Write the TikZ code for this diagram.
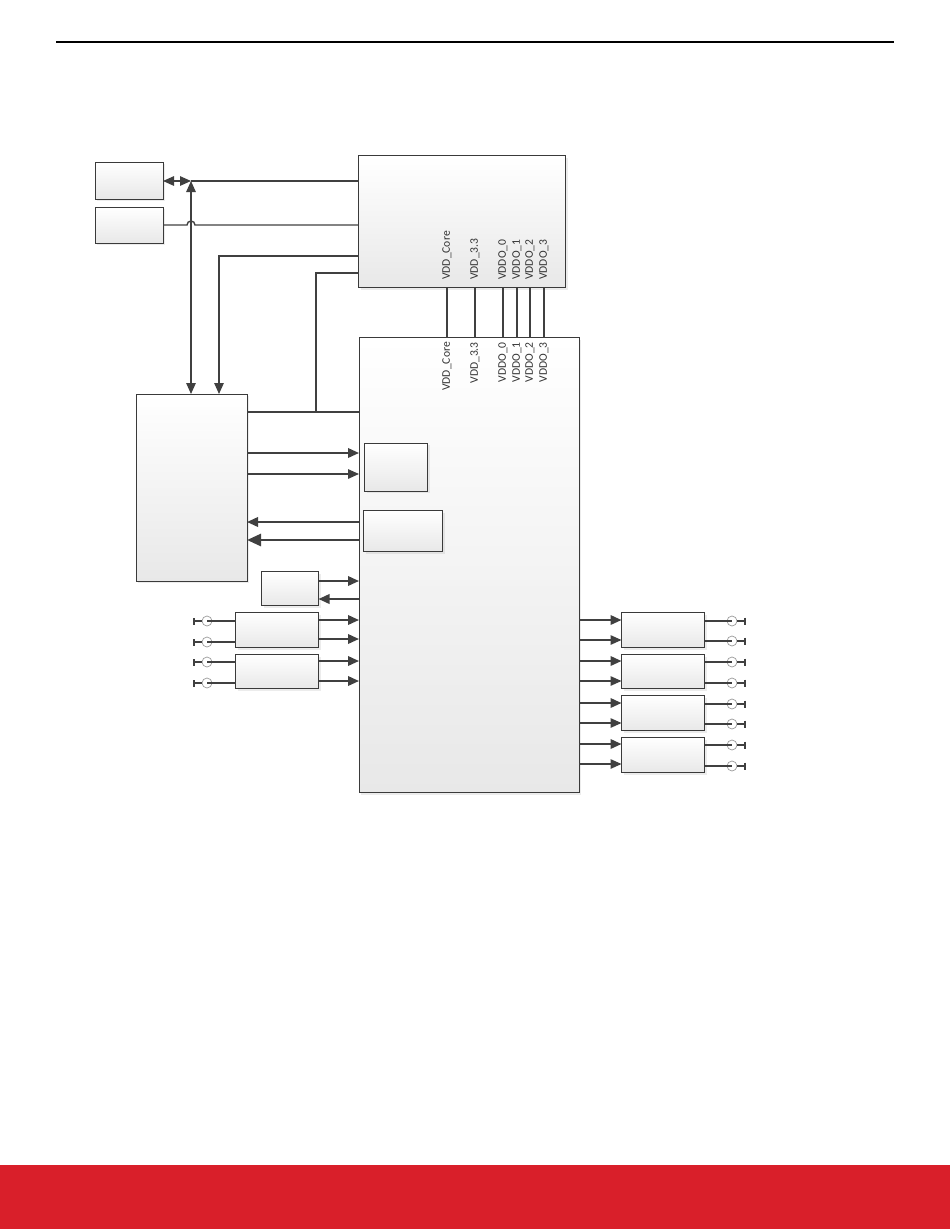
\documentclass[tikz,border=0pt]{standalone}
\usepackage{fontspec}
\setmainfont{Carlito}
\usetikzlibrary{arrows.meta,shadows}
\definecolor{ln}{HTML}{404040}
\definecolor{bd}{HTML}{3A3A3A}
\definecolor{redbar}{HTML}{D91F2A}
\definecolor{txt}{HTML}{333333}
\begin{document}
\begin{tikzpicture}[x=1pt,y=-1pt,
  box/.style={draw=bd, line width=0.9pt, top color=white, bottom color=black!9,
    inner sep=0pt, outer sep=0pt,
    drop shadow={opacity=0.15, shadow xshift=2pt, shadow yshift=-2pt}},
  wthin/.style={draw=ln, line width=1.4pt},
  wmed/.style={draw=ln, line width=2pt},
  wthick/.style={draw=ln, line width=2.8pt},
  tip/.style={-{Triangle[length=11pt,width=9.5pt]}},
  bigtip/.style={-{Triangle[length=14pt,width=12pt]}},
  both/.style={{Triangle[length=11pt,width=9.5pt]}-{Triangle[length=11pt,width=9.5pt]}},
  sma/.style={circle, draw=black!40, line width=0.7pt, minimum size=10pt, inner sep=0pt},
  gnd/.style={draw=ln, line width=1.2pt, -{Bar[width=7pt,line width=1.6pt]}},
  lbl/.style={text=txt, font=\fontsize{11.6}{13}\selectfont, inner sep=0pt, rotate=90}]
\useasboundingbox (0,0) rectangle (950,1229);
% page header and footer
\coordinate (hl) at (56,42);
\coordinate (hr) at (894,42);
\draw[black, line width=1.3pt] (hl) -- (hr);
\fill[redbar] (0,1165) rectangle (950,1229);

% boxes
\node[box, minimum width=68pt, minimum height=37pt] (A) at (129,180.5) {};
\node[box, minimum width=68pt, minimum height=36pt] (B) at (129,225) {};
\node[box, minimum width=207pt, minimum height=132pt] (C) at (462,221.5) {};
\node[box, minimum width=220pt, minimum height=455pt] (D) at (469,565) {};
\node[box, minimum width=111pt, minimum height=187pt] (E) at (191.5,487.5) {};
\node[box, minimum width=63pt, minimum height=48pt] (F) at (396,467) {};
\node[box, minimum width=79pt, minimum height=41pt] (G) at (403,531) {};
\node[box, minimum width=57pt, minimum height=34pt] (H) at (290,588.5) {};
\node[box, minimum width=83pt, minimum height=35pt] (I) at (277,630) {};
\node[box, minimum width=83pt, minimum height=34pt] (J) at (277,671.5) {};
\node[box, minimum width=83pt, minimum height=35pt] (K1) at (663,630) {};
\node[box, minimum width=83pt, minimum height=34pt] (K2) at (663,671.5) {};
\node[box, minimum width=83pt, minimum height=35pt] (K3) at (663,713) {};
\node[box, minimum width=83pt, minimum height=35pt] (K4) at (663,755) {};

% top-left connections
\coordinate (j1) at (191,181);
\draw[wthin, both] (A.east |- j1) -- (j1);
\draw[wthin] (j1) -- (C.west |- j1);
\draw[wthin, both] (E.north -| j1) -- (j1);
\draw[wthin] (B.east) -- (187,225) arc[start angle=180, end angle=0, radius=4pt] -- (C.west |- B.east);
\coordinate (j3) at (219,256);
\draw[wthin, tip] (C.west |- j3) -- (j3) -- (E.north -| j3);
\coordinate (j2) at (316,273);
\coordinate (j4) at (316,412);
\draw[wthick] (C.west |- j2) -- (j2) -- (j4);
\draw[wthick] (E.east |- j4) -- (D.west |- j4);

% E <-> D
\draw[wmed, tip] (E.east |- 0,453) -- (D.west |- 0,453);
\draw[wthin, tip] (E.east |- 0,474) -- (D.west |- 0,474);
\draw[wmed, tip] (D.west |- 0,522) -- (E.east |- 0,522);
\draw[wthick, bigtip] (D.west |- 0,540) -- (E.east |- 0,540);

% H, I, J -> D
\draw[wmed, tip] (H.east |- 0,581) -- (D.west |- 0,581);
\draw[wmed, tip] (D.west |- 0,599) -- (H.east |- 0,599);
\draw[wmed, tip] (I.east |- 0,620) -- (D.west |- 0,620);
\draw[wmed, tip] (I.east |- 0,639) -- (D.west |- 0,639);
\draw[wmed, tip] (J.east |- 0,661) -- (D.west |- 0,661);
\draw[wmed, tip] (J.east |- 0,681) -- (D.west |- 0,681);

% D -> K
\draw[wmed, tip] (D.east |- 0,620) -- (K1.west |- 0,620);
\draw[wthin, tip] (D.east |- 0,640) -- (K1.west |- 0,640);
\draw[wmed, tip] (D.east |- 0,661) -- (K2.west |- 0,661);
\draw[wthin, tip] (D.east |- 0,681) -- (K2.west |- 0,681);
\draw[wmed, tip] (D.east |- 0,703) -- (K3.west |- 0,703);
\draw[wthin, tip] (D.east |- 0,723) -- (K3.west |- 0,723);
\draw[wmed, tip] (D.east |- 0,744) -- (K4.west |- 0,744);
\draw[wthin, tip] (D.east |- 0,764) -- (K4.west |- 0,764);

% left connectors
\foreach \n/\y/\w in {1/621/1.3pt,2/642/2.1pt,3/662/1.3pt,4/683/2.1pt}{
  \node[sma] (li\n) at (207,\y) {};
  \coordinate (lt\n) at (193,\y);
  \draw[ln, line width=\w] (I.west |- li\n) -- (li\n.center);
  \draw[gnd] (li\n.west) -- (lt\n);
}
% right connectors
\foreach \n/\y/\w in {1/621/2.1pt,2/641/1.3pt,3/662/2.1pt,4/683/1.3pt,5/704/2.1pt,6/724/1.3pt,7/745/2.1pt,8/766/1.3pt}{
  \node[sma] (ro\n) at (732,\y) {};
  \coordinate (rt\n) at (746,\y);
  \draw[ln, line width=\w] (K1.east |- ro\n) -- (ro\n.center);
  \draw[gnd] (ro\n.east) -- (rt\n);
}

% power rails C -> D
\foreach \n/\x in {1/447,2/475,3/503,4/517,5/530,6/544}{
  \draw[ln, line width=1.2pt] (C.south -| \x,0) -- (D.north -| \x,0);
}
% labels in C
\node[lbl, anchor=west] (c1) at (447,280) {VDD\_Core};
\node[lbl, anchor=west] (c2) at (475,280) {VDD\_3.3};
\node[lbl, anchor=west] (c3) at (503,280) {VDDO\_0};
\node[lbl, anchor=west] (c4) at (517,280) {VDDO\_1};
\node[lbl, anchor=west] (c5) at (530,280) {VDDO\_2};
\node[lbl, anchor=west] (c6) at (544,280) {VDDO\_3};
% labels in D
\node[lbl, anchor=east] (d1) at (447,342) {VDD\_Core};
\node[lbl, anchor=east] (d2) at (475,342) {VDD\_3.3};
\node[lbl, anchor=east] (d3) at (503,342) {VDDO\_0};
\node[lbl, anchor=east] (d4) at (517,342) {VDDO\_1};
\node[lbl, anchor=east] (d5) at (530,342) {VDDO\_2};
\node[lbl, anchor=east] (d6) at (544,342) {VDDO\_3};
\end{tikzpicture}
\end{document}
